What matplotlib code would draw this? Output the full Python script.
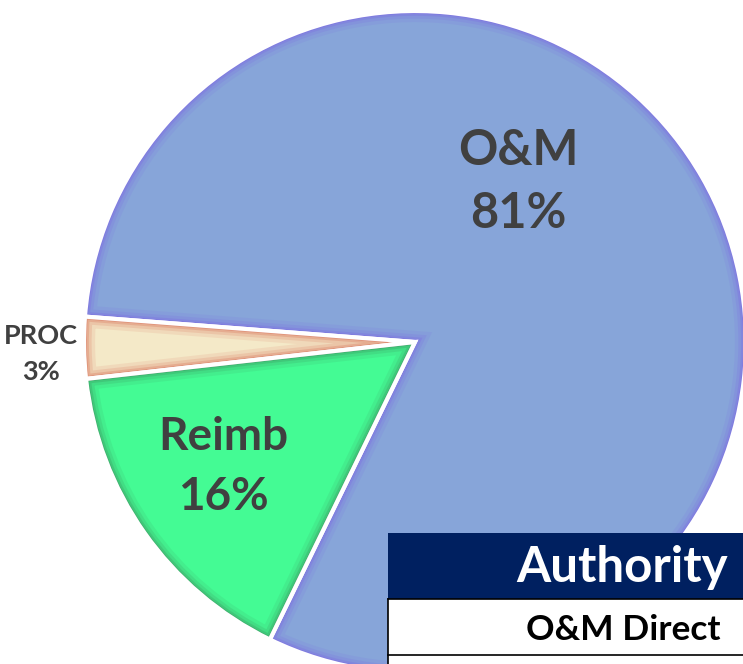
import matplotlib.pyplot as plt
import matplotlib.patches as mpatches

labels = ['O&M', 'PROC', 'Reimb']
shares = [81, 3, 16]
fills = ['#87a5d9', '#f4e9c8', '#44fb94']
glows = ['#7a5ce6', '#d2553f', '#3c7f55']
table_header = 'Authority'
table_rows = ['O&M Direct']

W, H = 743, 664
fig = plt.figure(figsize=(W / 100, H / 100), dpi=100)
ax = fig.add_axes([0, 0, 1, 1])

cx, cy, R = 415, H - 342, 331
wedges, _ = ax.pie(shares, colors=fills, startangle=-116, counterclock=True,
                   center=(cx, cy), radius=R, frame=False,
                   wedgeprops=dict(linewidth=0))

# soft inner glow along each slice's edge
for w, g in zip(wedges, glows):
    for lw, a in [(16, 0.10), (11, 0.15), (7, 0.22), (4, 0.35), (2, 0.5)]:
        p = mpatches.Wedge(w.center, w.r, w.theta1, w.theta2, fill=False,
                           edgecolor=g, linewidth=lw, alpha=a)
        ax.add_patch(p)
        p.set_clip_path(w)
    ax.add_patch(mpatches.Wedge(w.center, w.r, w.theta1, w.theta2, fill=False,
                                edgecolor='white', linewidth=3))

font = 'Lato'
txt = '#404040'
ax.text(518, H - 182, 'O&M\n81%', ha='center', va='center', fontsize=35,
        fontweight='bold', color=txt, family=font, linespacing=1.5)
ax.text(223, H - 467, 'Reimb\n16%', ha='center', va='center', fontsize=33,
        fontweight='bold', color=txt, family=font, linespacing=1.5)
ax.text(41, H - 354, 'PROC\n3%', ha='center', va='center', fontsize=19.5,
        fontweight='bold', color=txt, family=font, linespacing=1.65)

# table in the lower right corner
x0 = 388
ax.add_patch(mpatches.Rectangle((x0, H - 599), W - x0 + 5, 66,
                                facecolor='#002060', edgecolor='none', zorder=5))
ax.text(728, H - 567, table_header, ha='right', va='center', fontsize=35.5,
        fontweight='bold', color='white', family=font, zorder=6)
ax.add_patch(mpatches.Rectangle((x0, -5), W - x0 + 5, H - 599 + 5,
                                facecolor='white', edgecolor='none', zorder=5))
ax.plot([x0, x0], [-5, H - 599], color='black', lw=1.2, zorder=6)
ax.plot([x0, W], [H - 599, H - 599], color='black', lw=1.2, zorder=6)
ax.plot([x0, W], [H - 655, H - 655], color='black', lw=1.2, zorder=6)
for i, r in enumerate(table_rows):
    ax.text(720, H - 630 - i * 56, r, ha='right', va='center', fontsize=25.5,
            fontweight='bold', color='black', family=font, zorder=6)

ax.set_xlim(0, W)
ax.set_ylim(0, H)
ax.set_aspect('auto')
ax.axis('off')
fig.savefig('out.png', dpi=100)
